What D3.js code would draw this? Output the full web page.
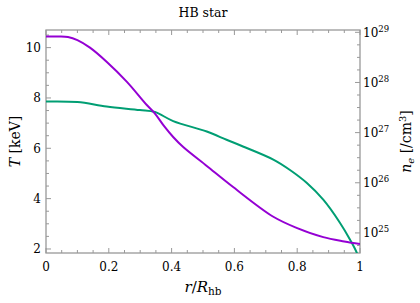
<!DOCTYPE html>
<html>
<head>
<meta charset="utf-8">
<script src="https://cdn.jsdelivr.net/npm/d3@7"></script>
<style>
  body { margin: 0; background: #fff; }
  svg text { font-family: "DejaVu Serif", serif; fill: #000; }
</style>
</head>
<body>
<script>
// temperature profile (left axis)
var rT = [0, 0.04, 0.07, 0.1, 0.14, 0.193, 0.257, 0.321, 0.347, 0.375, 0.405, 0.437, 0.512, 0.597, 0.724, 0.798, 0.883, 0.95, 1];
var tempKeV = [10.44, 10.44, 10.42, 10.3, 10.0, 9.44, 8.65, 7.72, 7.38, 6.9, 6.45, 6.05, 5.3, 4.45, 3.28, 2.84, 2.47, 2.3, 2.2];

// electron density profile (right axis, log)
var rN = [0, 0.1, 0.193, 0.299, 0.347, 0.405, 0.512, 0.575, 0.618, 0.724, 0.777, 0.83, 0.883, 0.936, 0.968, 0.99, 1];
var nE = [4.17e27, 4.07e27, 3.31e27, 2.82e27, 2.57e27, 1.70e27, 1.05e27, 7.2e26, 5.6e26, 2.9e26, 1.8e26, 1.0e26, 4.6e25, 1.6e25, 7.4e24, 4.0e24, 2.5e24];

var xTicks = [0, 0.2, 0.4, 0.6, 0.8, 1];
var tTicks = [2, 4, 6, 8, 10];
var nTicks = [1e25, 1e26, 1e27, 1e28, 1e29];

var width = 420, height = 303;
var L = 46, R = 360, T = 30, B = 253;
var frameColor = "#999";

var svg = d3.select("body").append("svg")
    .attr("width", width)
    .attr("height", height);

var x = d3.scaleLinear().domain([0, 1]).range([L, R]);
var yT = d3.scaleLinear().domain([1.84, 10.7]).range([B, T]);
var yN = d3.scaleLog().domain([Math.pow(10, 24.6), Math.pow(10, 29.046)]).range([B, T]);

svg.append("defs").append("clipPath").attr("id", "clip")
    .append("rect").attr("x", L).attr("y", T).attr("width", R - L).attr("height", B - T);

// ticks
var g = svg.append("g").attr("stroke", frameColor).attr("stroke-width", 1);

d3.range(0, 1.0001, 0.05).forEach(function (v) {
    var major = Math.abs(v * 5 - Math.round(v * 5)) < 1e-6;
    var len = major ? 5 : 3;
    g.append("line").attr("x1", x(v)).attr("x2", x(v)).attr("y1", B).attr("y2", B - len);
    g.append("line").attr("x1", x(v)).attr("x2", x(v)).attr("y1", T).attr("y2", T + len);
});

d3.range(2, 10.7, 0.5).forEach(function (v) {
    var major = Math.abs(v / 2 - Math.round(v / 2)) < 1e-6;
    var len = major ? 5 : 3;
    g.append("line").attr("x1", L).attr("x2", L + len).attr("y1", yT(v)).attr("y2", yT(v));
});

d3.range(24.75, 29.01, 0.25).forEach(function (e) {
    var major = Math.abs(e - Math.round(e)) < 1e-6;
    var len = major ? 5 : 3;
    var yy = yN(Math.pow(10, e));
    g.append("line").attr("x1", R).attr("x2", R - len).attr("y1", yy).attr("y2", yy);
});

// frame
svg.append("rect")
    .attr("x", L).attr("y", T)
    .attr("width", R - L).attr("height", B - T)
    .attr("fill", "none")
    .attr("stroke", frameColor)
    .attr("stroke-width", 1.3);

// tick labels
svg.selectAll(".xl").data(xTicks).enter().append("text")
    .attr("x", function (d) { return x(d); })
    .attr("y", 271)
    .attr("text-anchor", "middle")
    .attr("font-size", 12)
    .text(function (d) { return d; });

svg.selectAll(".tl").data(tTicks).enter().append("text")
    .attr("x", 41)
    .attr("y", function (d) { return yT(d) + 4.5; })
    .attr("text-anchor", "end")
    .attr("font-size", 12)
    .text(function (d) { return d; });

var nl = svg.selectAll(".nl").data(nTicks).enter().append("text")
    .attr("x", 363)
    .attr("y", function (d) { return yN(d) + 4.5; })
    .attr("font-size", 12);
nl.append("tspan").text("10");
nl.append("tspan").attr("dy", -5).attr("font-size", 8.5)
    .text(function (d) { return Math.round(Math.log10(d)); });

// lines
var lineT = d3.line()
    .x(function (d, i) { return x(rT[i]); })
    .y(function (d) { return yT(d); })
    .curve(d3.curveCatmullRom.alpha(0.5));

var lineN = d3.line()
    .x(function (d, i) { return x(rN[i]); })
    .y(function (d) { return yN(d); })
    .curve(d3.curveCatmullRom.alpha(0.5));

var plot = svg.append("g").attr("clip-path", "url(#clip)");

plot.append("path")
    .attr("d", lineN(nE))
    .attr("fill", "none")
    .attr("stroke", "#009E73")
    .attr("stroke-width", 2);

plot.append("path")
    .attr("d", lineT(tempKeV))
    .attr("fill", "none")
    .attr("stroke", "#9400D3")
    .attr("stroke-width", 2);

// title and axis labels
svg.append("text")
    .attr("x", (L + R) / 2).attr("y", 17)
    .attr("text-anchor", "middle")
    .attr("font-size", 12.5)
    .text("HB star");

var xl = svg.append("text")
    .attr("x", (L + R) / 2).attr("y", 292)
    .attr("text-anchor", "middle")
    .attr("font-size", 15);
xl.append("tspan").attr("font-style", "italic").text("r");
xl.append("tspan").text("/");
xl.append("tspan").attr("font-style", "italic").text("R");
xl.append("tspan").attr("dy", 3).attr("font-size", 10.5).text("hb");

var yl = svg.append("text")
    .attr("transform", "translate(20," + (T + B) / 2 + ") rotate(-90)")
    .attr("text-anchor", "middle")
    .attr("font-size", 14);
yl.append("tspan").attr("font-style", "italic").text("T");
yl.append("tspan").text(" [keV]");

var yr = svg.append("text")
    .attr("transform", "translate(411," + (T + B) / 2 + ") rotate(-90)")
    .attr("text-anchor", "middle")
    .attr("font-size", 14);
yr.append("tspan").attr("font-style", "italic").text("n");
yr.append("tspan").attr("dy", 3).attr("font-size", 10).attr("font-style", "italic").text("e");
yr.append("tspan").attr("dy", -3).text(" [/cm");
yr.append("tspan").attr("dy", -5).attr("font-size", 10).text("3");
yr.append("tspan").attr("dy", 5).text("]");
</script>
</body>
</html>
